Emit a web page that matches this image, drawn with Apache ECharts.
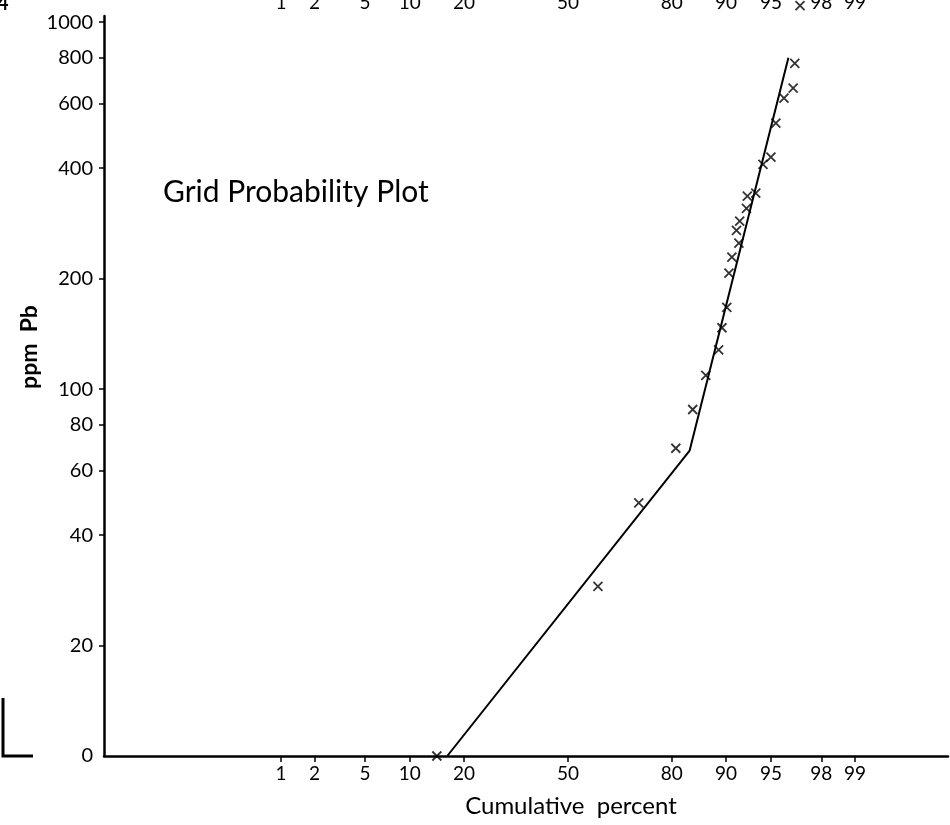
<!DOCTYPE html>
<html>
<head>
<meta charset="utf-8">
<script src="https://cdn.jsdelivr.net/npm/echarts@6/dist/echarts.min.js"></script>
<style>
  html, body { margin: 0; padding: 0; background: #fff; }
  #chart { width: 950px; height: 825px; }
</style>
</head>
<body>
<div id="chart"></div>
<script>
// samples: cumulative percent vs ppm Pb (0 = below the lowest class)
const pointPct = [14.4, 59.6, 71.7, 80.9, 84.4, 86.8, 88.9, 89.4, 90.1, 90.4, 90.8, 91.7,
  91.4, 91.8, 92.6, 92.7, 93.6, 94.3, 95.0, 95.4, 96.0, 96.6, 96.7, 97.0];
const pointPpm = [0, 29, 49, 69, 88, 109, 128, 147, 167, 207, 229, 250,
  271, 287, 311, 336, 342, 410, 429, 531, 621, 661, 773, 1110];

// hand-fitted two segment line
const linePct = [16.4, 83.8, 96.3];
const linePpm = [0, 68, 800];

// tick labels
const pctTicks = [1, 2, 5, 10, 20, 50, 80, 90, 95, 98, 99];
const ppmTicks = [0, 20, 40, 60, 80, 100, 200, 400, 600, 800, 1000];

const yFloor = 10;    // the "0" line sits where 10 would be on the log scale
const yTop = 1040;
const zMin = -3.76;   // probability axis range, in standard normal units
const zMax = 3.08;

const FONT = 'Lato';

// inverse normal cdf (Acklam)
function probit(p) {
  const a = [-3.969683028665376e+01, 2.209460984245205e+02, -2.759285104469687e+02,
    1.383577518672690e+02, -3.066479806614716e+01, 2.506628277459239e+00];
  const b = [-5.447609879822406e+01, 1.615858368580409e+02, -1.556989798598866e+02,
    6.680131188771972e+01, -1.328068155288572e+01];
  const c = [-7.784894002430293e-03, -3.223964580411365e-01, -2.400758277161838e+00,
    -2.549732539343734e+00, 4.374664141464968e+00, 2.938163982698783e+00];
  const d = [7.784695709041462e-03, 3.224671290700398e-01, 2.445134137142996e+00,
    3.754408661907416e+00];
  const pl = 0.02425;
  let q, r;
  if (p < pl) {
    q = Math.sqrt(-2 * Math.log(p));
    return (((((c[0] * q + c[1]) * q + c[2]) * q + c[3]) * q + c[4]) * q + c[5]) /
      ((((d[0] * q + d[1]) * q + d[2]) * q + d[3]) * q + 1);
  }
  if (p > 1 - pl) {
    q = Math.sqrt(-2 * Math.log(1 - p));
    return -(((((c[0] * q + c[1]) * q + c[2]) * q + c[3]) * q + c[4]) * q + c[5]) /
      ((((d[0] * q + d[1]) * q + d[2]) * q + d[3]) * q + 1);
  }
  q = p - 0.5;
  r = q * q;
  return (((((a[0] * r + a[1]) * r + a[2]) * r + a[3]) * r + a[4]) * r + a[5]) * q /
    (((((b[0] * r + b[1]) * r + b[2]) * r + b[3]) * r + b[4]) * r + 1);
}

const fx = (pct) => probit(pct / 100);
const fy = (ppm) => Math.log10(Math.max(ppm, yFloor));

const xTickVals = pctTicks.map(fx);
const yTickVals = ppmTicks.map(fy);
const xLabelOf = {};
pctTicks.forEach((p, i) => { xLabelOf[xTickVals[i].toFixed(5)] = String(p); });
const yLabelOf = {};
ppmTicks.forEach((v, i) => { yLabelOf[yTickVals[i].toFixed(5)] = String(v); });

const points = pointPct.map((p, i) => [fx(p), fy(pointPpm[i])]);
const line = linePct.map((p, i) => [fx(p), fy(linePpm[i])]);

const chart = echarts.init(document.getElementById('chart'), null, { renderer: 'canvas' });

const labelStyle = { color: '#000', fontFamily: FONT, fontSize: 19 };

chart.setOption({
  backgroundColor: '#fff',
  animation: false,
  grid: { left: 104, right: 2, top: 16, bottom: 69, outerBoundsMode: 'none', containLabel: false },
  xAxis: [
    {
      type: 'value',
      position: 'bottom',
      min: zMin,
      max: zMax,
      splitLine: { show: false },
      axisLine: { onZero: false, lineStyle: { color: '#000', width: 2.5 } },
      axisTick: { customValues: xTickVals, length: 6, lineStyle: { color: '#000', width: 1.5 } },
      axisLabel: Object.assign({
        customValues: xTickVals,
        margin: 8,
        formatter: (v) => xLabelOf[v.toFixed(5)] || ''
      }, labelStyle)
    },
    {
      type: 'value',
      position: 'top',
      min: zMin,
      max: zMax,
      splitLine: { show: false },
      axisLine: { show: false, onZero: false },
      axisTick: { show: false },
      axisLabel: Object.assign({
        customValues: xTickVals,
        margin: 4,
        formatter: (v) => xLabelOf[v.toFixed(5)] || ''
      }, labelStyle)
    }
  ],
  yAxis: {
    type: 'value',
    min: fy(yFloor),
    max: fy(yTop),
    splitLine: { show: false },
    axisLine: { onZero: false, lineStyle: { color: '#000', width: 2.5 } },
    axisTick: { customValues: yTickVals.slice(1), length: 5, lineStyle: { color: '#000', width: 1.5 } },
    axisLabel: Object.assign({
      customValues: yTickVals,
      margin: 11,
      formatter: (v) => yLabelOf[v.toFixed(5)] || ''
    }, labelStyle, { fontSize: 20 })
  },
  series: [
    {
      type: 'line',
      data: line,
      symbol: 'none',
      lineStyle: { color: '#000', width: 2 },
      z: 2
    },
    {
      type: 'scatter',
      data: points,
      clip: false,
      symbol: 'path://M0,0L10,10M10,0L0,10',
      symbolSize: 9,
      itemStyle: { color: 'none', borderColor: '#000', borderWidth: 1.8 },
      z: 3
    }
  ],
  graphic: [
    {
      type: 'text',
      left: 163,
      top: 177,
      style: { text: 'Grid Probability Plot', fill: '#000', font: '30px ' + FONT }
    },
    {
      type: 'text',
      x: 30,
      y: 347,
      rotation: Math.PI / 2,
      style: {
        text: 'ppm  Pb', fill: '#000', font: 'bold 23px ' + FONT,
        align: 'center', verticalAlign: 'middle'
      }
    },
    {
      type: 'text',
      x: 571,
      y: 806,
      style: {
        text: 'Cumulative  percent', fill: '#000', font: '24px ' + FONT,
        align: 'center', verticalAlign: 'middle'
      }
    },
    {
      type: 'text',
      x: -3,
      y: -6,
      style: { text: '4', fill: '#000', font: 'bold 20px ' + FONT }
    },
    {
      type: 'polyline',
      shape: { points: [[3, 698], [3, 756], [33, 756]] },
      style: { stroke: '#000', lineWidth: 3, fill: null }
    }
  ]
});
</script>
</body>
</html>
